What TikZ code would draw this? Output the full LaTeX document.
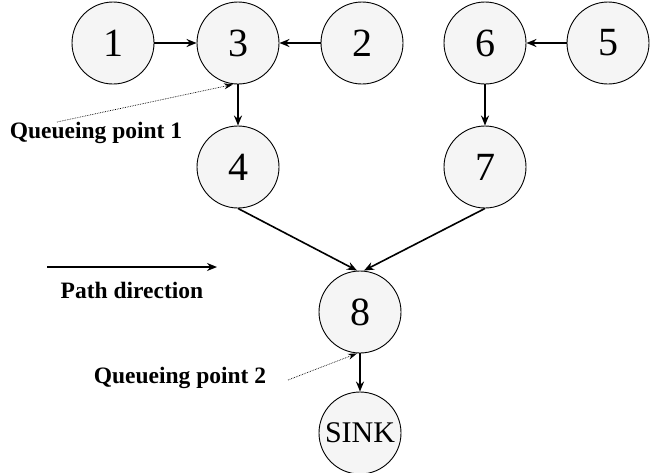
\documentclass[tikz,border=0pt]{standalone}
\usepackage{fontspec}
\setmainfont{Liberation Serif}
\usetikzlibrary{calc,arrows.meta}

\begin{document}
\begin{tikzpicture}[x=1pt,y=1pt,
    vert/.style={circle,draw,line width=0.9pt,fill=black!4,minimum size=82pt,inner sep=0pt,font=\fontsize{40}{40}\selectfont},
    edge/.style={line width=1.6pt,-{Stealth[length=10pt,width=8pt]}},
    qline/.style={line width=0.7pt,densely dotted,-{Stealth[length=9pt,width=6pt]}},
    lbl/.style={font=\fontsize{23.5}{26}\selectfont\bfseries}]
        % рамка 651x472
        \useasboundingbox (0,0) rectangle (651,-472);

        % Вершини
        \node[vert] (n1) at (113,-43) {1};
        \node[vert] (n3) at (238,-43) {3};
        \node[vert] (n2) at (362,-43) {2};
        \node[vert] (n6) at (485,-43) {6};
        \node[vert] (n5) at (608,-43) {5};
        \node[vert] (n4) at (238,-167) {4};
        \node[vert] (n7) at (485,-167) {7};
        \node[vert] (n8) at (360,-312) {8};
        \node[vert,font=\fontsize{30}{30}\selectfont] (sink) at (360,-433) {SINK};

        % Ребра
        \draw[edge] (n1) -- (n3);
        \draw[edge] (n2) -- (n3);
        \draw[edge] (n5) -- (n6);
        \draw[edge] (n3) -- (n4);
        \draw[edge] (n6) -- (n7);
        \draw[edge] (n4.south) -- ($(n8.north)+(-3,0)$);
        \draw[edge] (n7.south) -- ($(n8.north)+(4,0)$);
        \draw[edge] (n8) -- (sink);

        % Напрям шляху
        \coordinate (pd1) at (47,-267);
        \coordinate (pd2) at (217,-267);
        \draw[edge] (pd1) -- (pd2);
        \node[lbl] (pdl) at (132,-290) {Path direction};

        % Точки черги
        \node[lbl] (q1) at (96,-133) {Queueing point 1};
        \coordinate (q1s) at (57,-122);
        \draw[qline] (q1s) -- ($(n3.south)+(-5,0)$);

        \node[lbl] (q2) at (180,-378) {Queueing point 2};
        \coordinate (q2s) at (288,-380);
        \draw[qline] (q2s) -- ($(n8.south)+(-3,0)$);
\end{tikzpicture}
\end{document}
